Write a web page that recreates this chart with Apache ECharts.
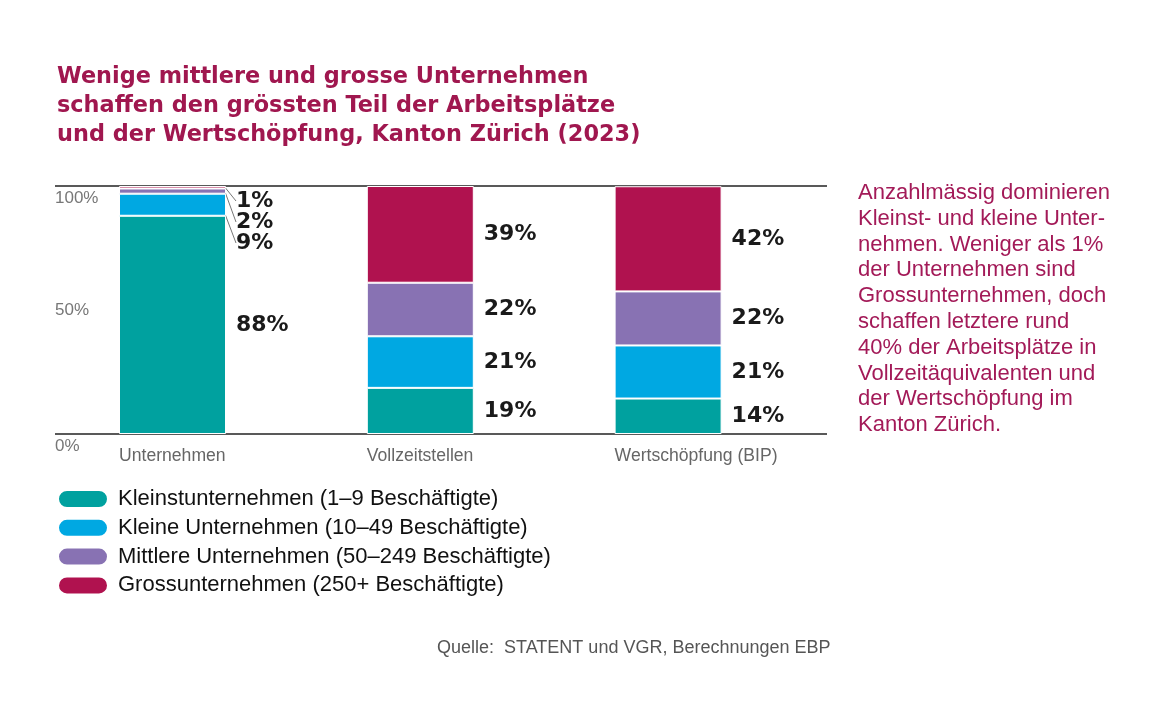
<!DOCTYPE html>
<html>
<head>
<meta charset="utf-8">
<script src="https://cdn.jsdelivr.net/npm/echarts@6/dist/echarts.min.js"></script>
<style>
  html, body { margin: 0; padding: 0; background: #fff; }
  #chart { width: 1152px; height: 702px; }
</style>
</head>
<body>
<div id="chart"></div>
<script>
// Data (shares in %)
const categories = ['Unternehmen', 'Vollzeitstellen', 'Wertschöpfung (BIP)'];
const kleinst = [88.0, 18.6, 14.3];
const kleine = [8.9, 20.8, 21.4];
const mittlere = [2.1, 21.6, 21.8];
const gross = [1.0, 39.0, 42.4];
const seriesNames = [
  'Kleinstunternehmen (1–9 Beschäftigte)',
  'Kleine Unternehmen (10–49 Beschäftigte)',
  'Mittlere Unternehmen (50–249 Beschäftigte)',
  'Grossunternehmen (250+ Beschäftigte)'
];
const yTicks = [0, 50, 100];

const colors = ['#00a19f', '#00a8e2', '#8872b3', '#b0124f'];
const crimson = '#a0174f';
const font = 'Liberation Sans';

// small Unternehmen shares get pulled down with a leader line
const pulledLabelY = { 1: 243, 2: 222, 3: 201 };

const chart = echarts.init(document.getElementById('chart'));

const labelStyle = {
  show: true,
  position: 'right',
  distance: 10,
  fontFamily: 'DejaVu Sans',
  fontWeight: 'bold',
  fontSize: 22,
  color: '#1a1a1a',
  formatter: p => Math.round(p.value) + '%'
};

const makeSeries = (idx, values) => ({
  name: seriesNames[idx],
  type: 'bar',
  stack: 'total',
  xAxisIndex: 0,
  yAxisIndex: 0,
  barWidth: 107,
  data: values.map((v, i) => ({
    value: v,
    labelLine: { show: i === 0 && !!pulledLabelY[idx] }
  })),
  itemStyle: { color: colors[idx], borderColor: '#fff', borderWidth: 1 },
  label: labelStyle,
  labelLine: { show: false, lineStyle: { color: '#777', width: 1 } },
  labelLayout: params => {
    if (params.dataIndex === 0 && pulledLabelY[idx]) {
      return { y: pulledLabelY[idx], x: 236, align: 'left', verticalAlign: 'middle' };
    }
    return {};
  }
});

const option = {
  backgroundColor: '#fff',
  animation: false,
  title: [
    {
      text: 'Wenige mittlere und grosse Unternehmen\nschaffen den grössten Teil der Arbeitsplätze\nund der Wertschöpfung, Kanton Zürich (2023)',
      left: 52,
      top: 58,
      textStyle: { fontFamily: 'DejaVu Sans', fontWeight: 'bold', fontSize: 22.4, lineHeight: 29, color: crimson }
    },
    {
      text: 'Anzahlmässig dominieren\nKleinst- und kleine Unter-\nnehmen. Weniger als 1%\nder Unternehmen sind\nGrossunternehmen, doch\nschaffen letztere rund\n40% der Arbeitsplätze in\nVollzeitäquivalenten und\nder Wertschöpfung im\nKanton Zürich.',
      left: 853,
      top: 175,
      textStyle: { fontFamily: font, fontWeight: 'normal', fontSize: 22, lineHeight: 25.8, color: '#a31a58' }
    },
    {
      text: 'Quelle:  STATENT und VGR, Berechnungen EBP',
      left: 432,
      top: 634,
      textStyle: { fontFamily: font, fontWeight: 'normal', fontSize: 18, color: '#555' }
    }
  ],
  legend: {
    orient: 'vertical',
    left: 57,
    top: 488,
    padding: 0,
    itemWidth: 50,
    itemHeight: 18,
    itemGap: 6.8,
    icon: 'path://M9,0 H41 A9,9 0 0 1 41,18 H9 A9,9 0 0 1 9,0 Z',
    textStyle: { fontFamily: font, fontSize: 22, color: '#111', padding: [0, 0, 0, 5] },
    data: seriesNames
  },
  grid: [
    { left: 48.6, right: 360, top: 186, bottom: 268 },
    { left: 55, right: 325, top: 186, bottom: 268 }
  ],
  xAxis: [
    {
      type: 'category',
      gridIndex: 0,
      data: categories,
      axisLine: { show: false },
      axisTick: { show: false },
      axisLabel: {
        margin: 13,
        formatter: v => '{a|' + v + '}',
        rich: { a: { width: 107, align: 'left', fontFamily: font, fontSize: 17.6, color: '#666' } }
      }
    },
    { type: 'value', gridIndex: 1, min: 0, max: 1, show: false }
  ],
  yAxis: [
    { type: 'value', gridIndex: 0, min: 0, max: 100, show: false },
    {
      type: 'value',
      gridIndex: 1,
      min: yTicks[0],
      max: yTicks[yTicks.length - 1],
      interval: 50,
      axisLine: { show: false },
      axisTick: { show: false },
      splitLine: { lineStyle: { color: ['#222', 'rgba(0,0,0,0)', '#222'], width: 1.5 } },
      axisLabel: {
        inside: true,
        margin: 0,
        formatter: v => v === 50 ? '{m|' + v + '%}' : '{e|' + v + '%}',
        rich: {
          m: { fontFamily: font, fontSize: 17, color: '#777' },
          e: { fontFamily: font, fontSize: 17, color: '#777', padding: [24, 0, 0, 0] }
        }
      }
    }
  ],
  series: [
    makeSeries(0, kleinst),
    makeSeries(1, kleine),
    makeSeries(2, mittlere),
    makeSeries(3, gross)
  ]
};

chart.setOption(option);
</script>
</body>
</html>
